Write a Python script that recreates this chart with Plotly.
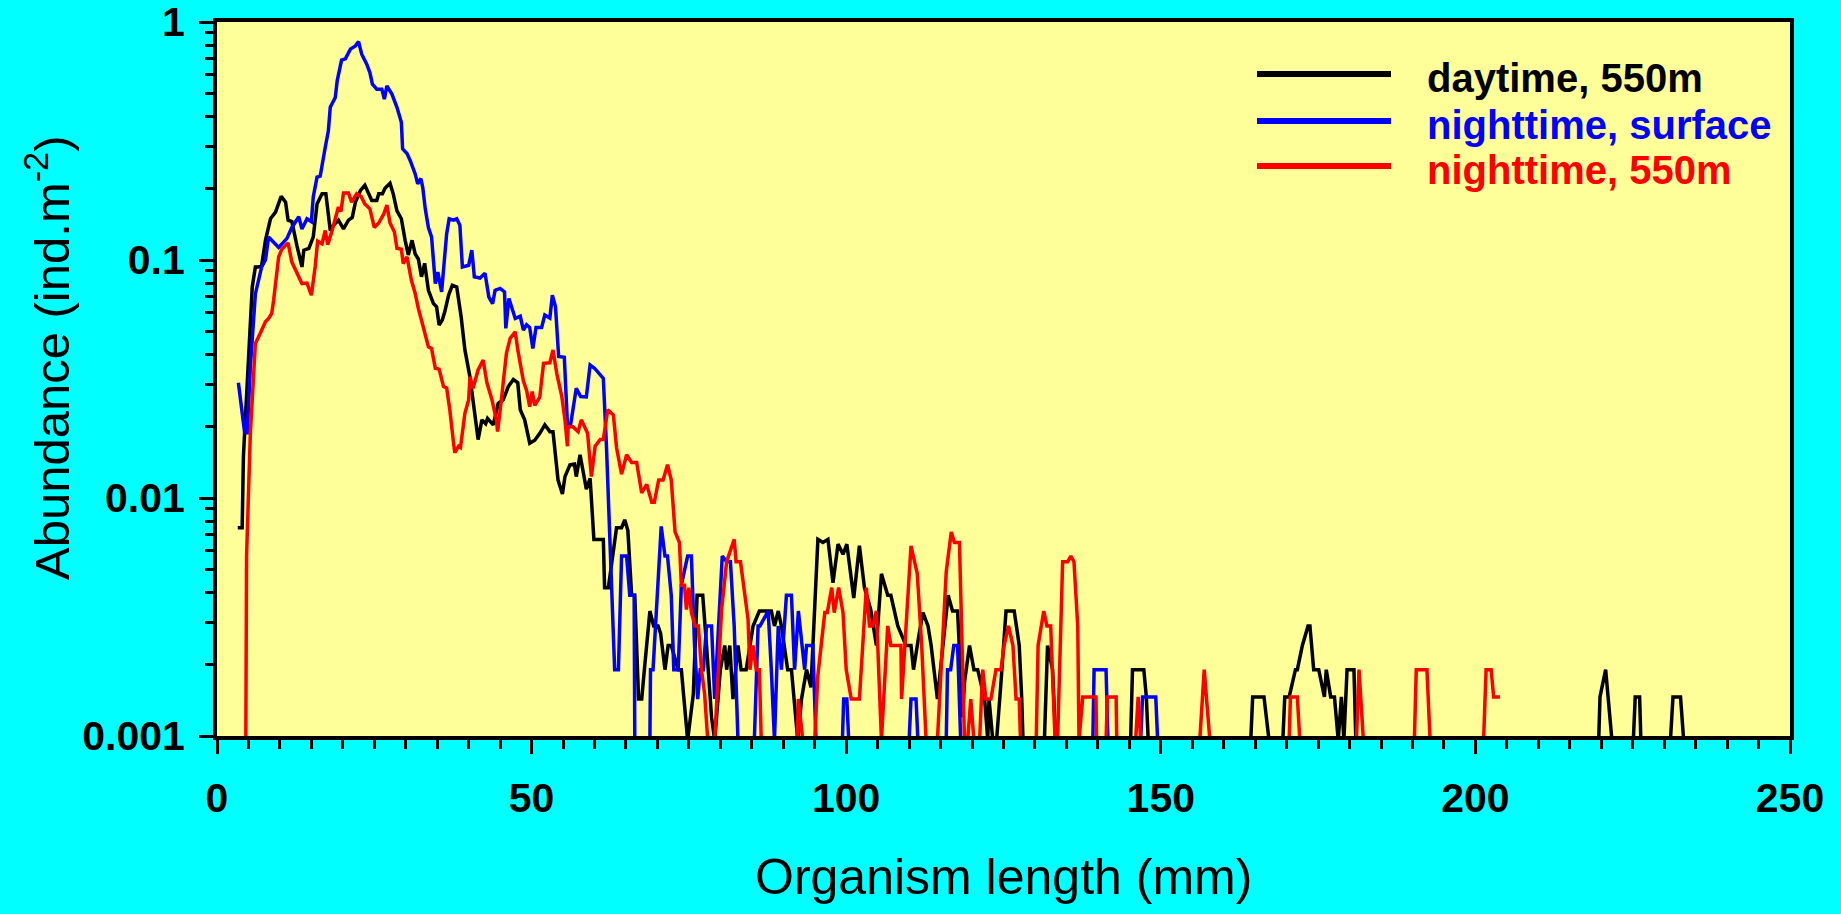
import plotly.graph_objects as go

# ---------------- data ----------------
day550_x = [3.3, 4.0, 4.2, 4.8, 5.6, 6.1, 6.6, 7.1, 7.7, 8.5, 9.3, 10.2, 10.9, 11.3, 11.9, 12.7, 13.5, 13.8,
            14.6, 15.3, 15.9, 16.7, 17.3, 18.0, 18.5, 19.3, 20.1, 20.9, 21.5, 22.0, 22.8, 23.5, 24.1, 24.6,
            25.4, 25.7, 26.3, 26.7, 27.5, 28.0, 28.6, 29.3, 29.9, 30.4, 31.0, 31.5, 32.0, 32.5, 33.0, 33.6,
            34.4, 34.9, 35.3, 35.8, 36.2, 36.8, 37.4, 38.1, 38.8, 39.4, 40.2, 40.7, 41.0, 41.5, 42.1, 42.7,
            43.0, 43.9, 44.7, 45.5, 46.3, 47.1, 47.8, 48.2, 48.9, 49.7, 50.5, 51.3, 52.1, 52.9, 53.4, 53.7,
            54.2, 54.9, 55.3, 56.1, 56.8, 57.1, 57.7, 58.7, 59.3, 59.9, 61.4, 61.6, 62.2, 63.5, 64.3, 64.8,
            65.3, 65.9, 66.4, 67.0, 67.5, 68.0, 68.8, 69.4, 70.1, 70.5, 71.2, 71.7, 72.2, 73.3, 73.8, 74.8,
            75.7, 76.3, 77.2, 77.8, 78.6, 79.1, 80.0, 80.7, 81.0, 81.5, 82.0, 82.8, 83.3, 84.1, 85.2, 86.2,
            88.1, 88.6, 89.2, 89.7, 90.7, 91.3, 92.3, 92.9, 93.7, 94.4, 95.5, 96.3, 97.1, 97.9, 98.7, 99.5,
            100.1, 101.2, 102.1, 102.9, 103.9, 104.8, 105.6, 106.6, 107.1, 108.2, 109.5, 110.3, 110.7, 111.5,
            112.2, 113.0, 113.5, 114.5, 116.2, 116.9, 117.7, 118.5, 118.8, 119.6, 120.3, 120.9, 121.4, 122.0,
            122.5, 122.7, 123.3, 123.9, 124.6, 125.4, 126.7, 127.5, 127.9, 128.1, 131.5, 132.0, 132.8, 133.3,
            145.2, 145.5, 147.3, 147.7, 148.0, 164.3, 164.6, 166.4, 167.2, 169.4, 169.7, 170.4, 171.4, 171.7,
            172.5, 173.4, 173.7, 174.3, 175.1, 176.0, 176.3, 177.0, 177.6, 178.2, 178.7, 179.1, 179.6, 180.7,
            181.0, 219.6, 219.8, 220.7, 221.7, 225.1, 225.4, 226.1, 226.3, 231.0, 231.4, 232.6, 233.1]
day550_y = [0.0075, 0.0075, 0.015, 0.03, 0.077, 0.0935, 0.0935, 0.095, 0.121, 0.149, 0.159, 0.185, 0.175, 0.147,
            0.145, 0.115, 0.0935, 0.11, 0.112, 0.125, 0.172, 0.19, 0.19, 0.133, 0.14, 0.147, 0.135, 0.147,
            0.151, 0.175, 0.196, 0.206, 0.19, 0.178, 0.178, 0.19, 0.19, 0.2, 0.21, 0.19, 0.161, 0.149, 0.121,
            0.105, 0.121, 0.106, 0.101, 0.085, 0.0968, 0.0746, 0.0656, 0.0636, 0.0533, 0.056, 0.0606, 0.0711,
            0.0783, 0.077, 0.0577, 0.0419, 0.0323, 0.025, 0.0223, 0.0176, 0.0213, 0.0205, 0.0216, 0.0203, 0.025,
            0.0259, 0.0294, 0.0315, 0.0305, 0.0235, 0.0213, 0.017, 0.0175, 0.0187, 0.0203, 0.019, 0.019, 0.0155,
            0.0119, 0.0104, 0.0123, 0.0138, 0.0139, 0.0123, 0.0152, 0.0109, 0.0121, 0.0067, 0.0067, 0.0042,
            0.0042, 0.0075, 0.0075, 0.0081, 0.0073, 0.0039, 0.0039, 0.00143, 0.00143, 0.002, 0.00335, 0.0029,
            0.0029, 0.0027, 0.0019, 0.0024, 0.0024, 0.0019, 0.0019, 0.00096, 0.0015, 0.0039, 0.0039, 0.0024,
            0.0012, 0.00096, 0.0019, 0.0024, 0.0019, 0.0024, 0.00143, 0.0024, 0.0019, 0.0019, 0.0029, 0.00335,
            0.00335, 0.0029, 0.00335, 0.0029, 0.0019, 0.0019, 0.00096, 0.00143, 0.0019, 0.0016, 0.0067, 0.0065,
            0.0067, 0.0044, 0.0064, 0.0058, 0.0064, 0.0038, 0.0063, 0.0042, 0.0034, 0.0024, 0.0048, 0.0039,
            0.0039, 0.0029, 0.0024, 0.0024, 0.0019, 0.0026, 0.0033, 0.0029, 0.0024, 0.00143, 0.0039, 0.00335,
            0.00335, 0.0012, 0.00168, 0.0024, 0.0019, 0.0019, 0.00168, 0.00143, 0.00096, 0.00143, 0.00096,
            0.00096, 0.00168, 0.00335, 0.00335, 0.0024, 0.00143, 0.00096, 0.00096, 0.0024, 0.0019, 0.00096,
            0.00096, 0.0019, 0.0019, 0.00146, 0.00096, 0.00096, 0.00146, 0.00146, 0.00096, 0.00096, 0.00146,
            0.00146, 0.0019, 0.0019, 0.0024, 0.0029, 0.0029, 0.0019, 0.0019, 0.00146, 0.0019, 0.00146, 0.00146,
            0.00096, 0.00146, 0.00096, 0.0019, 0.0019, 0.00096, 0.00096, 0.00146, 0.0019, 0.00096, 0.00096,
            0.00146, 0.00146, 0.00096, 0.00096, 0.00146, 0.00146, 0.00096]

nightsurf_x = [3.4, 4.4, 4.8, 5.3, 6.1, 7.1, 7.7, 8.2, 9.8, 11.1, 11.9, 13.0, 13.5, 14.3, 15.0, 15.3, 15.9, 16.4,
               17.2, 17.7, 18.0, 18.8, 19.1, 19.8, 20.4, 21.2, 22.0, 22.5, 23.0, 23.8, 24.3, 24.7, 25.4, 26.2,
               26.6, 27.0, 27.8, 28.6, 29.3, 29.5, 30.2, 30.7, 31.5, 31.9, 32.4, 32.7, 33.1, 33.6, 34.1, 34.7,
               35.1, 35.5, 35.7, 36.5, 36.9, 37.6, 38.1, 38.6, 39.0, 40.0, 40.5, 40.9, 41.8, 42.6, 43.2, 43.8,
               44.2, 45.0, 45.7, 45.9, 46.4, 47.4, 48.2, 48.7, 49.2, 49.7, 50.2, 50.7, 51.6, 52.1, 52.9, 53.3,
               53.8, 54.3, 55.2, 55.7, 56.2, 57.1, 57.8, 58.7, 59.3, 60.0, 60.6, 61.4, 61.9, 63.2, 63.8, 64.3,
               65.1, 65.6, 66.3, 66.4, 68.8, 68.9, 69.3, 70.6, 71.2, 71.6, 72.2, 72.6, 73.3, 73.8, 74.8, 75.4,
               75.9, 76.4, 76.8, 77.3, 77.8, 78.6, 79.1, 80.3, 81.0, 81.6, 82.2, 82.8, 85.4, 86.0, 86.3, 87.6,
               88.1, 88.6, 89.2, 89.7, 90.5, 91.3, 91.8, 92.4, 93.4, 93.7, 94.7, 95.2, 99.4, 99.6, 100.1, 100.4,
               110.0, 110.3, 111.1, 111.4, 115.9, 116.1, 116.6, 117.1, 117.7, 118.2, 139.2, 139.4, 141.3, 141.6,
               146.8, 147.1, 149.2, 149.5]
nightsurf_y = [0.0305, 0.0188, 0.0188, 0.0356, 0.072, 0.0935, 0.1, 0.125, 0.113, 0.123, 0.137, 0.152, 0.135,
               0.149, 0.145, 0.184, 0.223, 0.225, 0.297, 0.349, 0.438, 0.482, 0.566, 0.691, 0.7, 0.769, 0.794,
               0.827, 0.732, 0.665, 0.613, 0.548, 0.522, 0.522, 0.474, 0.539, 0.498, 0.438, 0.379, 0.293, 0.28,
               0.262, 0.23, 0.209, 0.22, 0.202, 0.164, 0.137, 0.125, 0.0796, 0.089, 0.0796, 0.0734, 0.129, 0.149,
               0.147, 0.149, 0.14, 0.0935, 0.095, 0.11, 0.085, 0.084, 0.088, 0.07, 0.0656, 0.0746, 0.076, 0.0735,
               0.0516, 0.0689, 0.0568, 0.058, 0.0508, 0.0535, 0.052, 0.0425, 0.0521, 0.0521, 0.0587, 0.057,
               0.0711, 0.0636, 0.0393, 0.039, 0.0203, 0.0203, 0.0289, 0.0267, 0.0266, 0.0362, 0.0351, 0.0335,
               0.0318, 0.0165, 0.0019, 0.0019, 0.0057, 0.0057, 0.0039, 0.0039, 0.00096, 0.00096, 0.0019, 0.0019,
               0.0076, 0.0057, 0.0057, 0.0039, 0.0019, 0.0019, 0.0043, 0.0057, 0.0057, 0.0024, 0.00143, 0.0019,
               0.0019, 0.0029, 0.0029, 0.00143, 0.0057, 0.0054, 0.0054, 0.0029, 0.00096, 0.00096, 0.0029, 0.0029,
               0.00335, 0.0019, 0.00096, 0.0029, 0.0019, 0.0039, 0.0039, 0.0019, 0.00335, 0.0019, 0.0024, 0.0024,
               0.00096, 0.00096, 0.00143, 0.00143, 0.00096, 0.00096, 0.00143, 0.00143, 0.00096, 0.00096, 0.0019,
               0.0019, 0.0024, 0.0024, 0.00096, 0.00096, 0.0019, 0.0019, 0.00096, 0.00096, 0.00146, 0.00146,
               0.00096]

night550_x = [4.5, 4.7, 5.3, 6.1, 6.9, 7.7, 8.2, 8.7, 9.0, 9.8, 10.3, 11.3, 11.9, 12.7, 13.5, 14.3, 15.0, 15.6,
              16.0, 16.7, 17.2, 17.6, 18.3, 19.3, 19.7, 20.1, 20.9, 21.4, 22.2, 22.9, 23.5, 24.3, 24.6, 25.0,
              25.7, 26.5, 27.0, 27.5, 28.2, 28.6, 29.3, 29.6, 30.2, 30.9, 31.5, 32.0, 32.7, 33.6, 34.1, 34.7,
              35.3, 36.0, 36.5, 37.0, 37.6, 37.8, 38.4, 38.7, 39.4, 40.0, 40.2, 40.7, 41.5, 42.3, 42.9, 43.7,
              44.4, 44.6, 45.2, 46.0, 46.6, 47.4, 47.8, 48.7, 49.2, 49.7, 50.1, 50.5, 51.3, 51.9, 52.9, 53.4,
              54.0, 54.8, 55.3, 55.7, 55.8, 56.6, 57.4, 57.9, 58.9, 59.5, 60.1, 60.9, 61.4, 62.1, 63.0, 63.5,
              64.3, 65.1, 65.9, 66.7, 67.5, 68.3, 69.1, 69.5, 70.2, 70.9, 71.6, 72.2, 72.8, 73.5, 73.8, 74.3,
              74.6, 75.0, 75.4, 76.0, 76.5, 77.0, 77.5, 78.0, 79.1, 80.2, 81.0, 82.2, 82.5, 83.2, 83.9, 84.4,
              84.7, 85.2, 85.7, 86.2, 86.5, 92.2, 92.4, 93.1, 95.0, 95.5, 96.6, 97.0, 97.7, 98.1, 98.8, 99.5,
              100.0, 100.8, 102.1, 103.2, 103.7, 104.2, 104.8, 105.6, 106.6, 107.1, 108.7, 108.8, 110.3, 111.3,
              112.0, 112.7, 114.5, 115.9, 116.7, 117.2, 118.0, 118.8, 119.3, 119.8, 120.3, 121.2, 121.7, 122.2,
              123.0, 123.8, 124.6, 125.1, 125.8, 126.5, 127.0, 127.5, 127.7, 130.2, 130.5, 131.4, 131.9, 132.5,
              133.2, 133.6, 134.4, 135.2, 135.7, 136.2, 136.8, 137.0, 137.6, 139.7, 139.8, 141.3, 141.5, 142.9,
              143.0, 146.0, 146.4, 146.8, 156.2, 156.9, 157.8, 170.4, 170.6, 171.7, 172.1, 181.1, 181.5, 182.2,
              190.3, 190.6, 192.3, 192.8, 201.3, 201.7, 202.5, 202.9, 203.9]
night550_y = [0.0003, 0.0057, 0.0187, 0.0446, 0.0494, 0.055, 0.0568, 0.0596, 0.0678, 0.103, 0.111, 0.118, 0.098,
              0.0877, 0.0796, 0.08, 0.0711, 0.0935, 0.12, 0.117, 0.133, 0.116, 0.133, 0.167, 0.16, 0.191, 0.191,
              0.175, 0.19, 0.185, 0.172, 0.164, 0.152, 0.137, 0.143, 0.156, 0.17, 0.143, 0.131, 0.112, 0.111,
              0.0966, 0.103, 0.0822, 0.0723, 0.0626, 0.0533, 0.0432, 0.0425, 0.0351, 0.0348, 0.0294, 0.029,
              0.0235, 0.017, 0.0155, 0.0165, 0.0163, 0.0227, 0.0259, 0.0323, 0.0289, 0.0345, 0.038, 0.0305,
              0.0259, 0.0213, 0.019, 0.0259, 0.0405, 0.0469, 0.0499, 0.042, 0.031, 0.0284, 0.0242, 0.028, 0.0245,
              0.0265, 0.0368, 0.037, 0.0419, 0.0334, 0.0267, 0.0213, 0.0165, 0.0199, 0.0199, 0.019, 0.0213,
              0.0187, 0.0123, 0.0165, 0.0176, 0.0176, 0.0235, 0.0223, 0.0163, 0.0126, 0.0152, 0.0141, 0.0141,
              0.0105, 0.0114, 0.0096, 0.0096, 0.0119, 0.0119, 0.0138, 0.0119, 0.0072, 0.0065, 0.0043, 0.0043,
              0.0034, 0.0042, 0.0033, 0.0029, 0.0029, 0.0019, 0.0015, 0.00096, 0.00096, 0.0034, 0.0054, 0.0067,
              0.0054, 0.0054, 0.0039, 0.0031, 0.0019, 0.0024, 0.0019, 0.0019, 0.00096, 0.00096, 0.00143, 0.00096,
              0.00096, 0.0018, 0.0033, 0.0033, 0.0042, 0.0033, 0.0042, 0.0033, 0.0019, 0.00143, 0.00143, 0.0042,
              0.0029, 0.0029, 0.00335, 0.00096, 0.0029, 0.0024, 0.0024, 0.00143, 0.0063, 0.0048, 0.0024, 0.00096,
              0.00096, 0.0049, 0.0072, 0.0065, 0.0065, 0.00096, 0.00096, 0.00143, 0.00096, 0.00096, 0.0019,
              0.00143, 0.00143, 0.0019, 0.0019, 0.0024, 0.0029, 0.0024, 0.00143, 0.00143, 0.00096, 0.00096,
              0.0024, 0.00335, 0.0029, 0.0029, 0.00096, 0.00096, 0.0054, 0.0054, 0.0057, 0.0054, 0.0029, 0.00096,
              0.00146, 0.00146, 0.00096, 0.00096, 0.00146, 0.00146, 0.00096, 0.00096, 0.00146, 0.00096, 0.00096,
              0.0019, 0.00096, 0.00096, 0.00146, 0.00146, 0.00096, 0.00096, 0.0019, 0.00096, 0.00096, 0.0019,
              0.0019, 0.00096, 0.00096, 0.0019, 0.0019, 0.00146, 0.00146]

series_names = ["daytime, 550m", "nighttime, surface", "nighttime, 550m"]
series_colors = ["#000000", "#0000FF", "#FF0000"]
x_tick_vals = [0, 50, 100, 150, 200, 250]
x_tick_text = ["0", "50", "100", "150", "200", "250"]
y_tick_vals = [0.001, 0.01, 0.1, 1]
y_tick_text = ["0.001", "0.01", "0.1", "1"]

FONT = "Liberation Sans, Arial, sans-serif"

fig = go.Figure()
for xs, ys, nm, col in zip([day550_x, nightsurf_x, night550_x],
                           [day550_y, nightsurf_y, night550_y],
                           series_names, series_colors):
    fig.add_trace(go.Scatter(x=xs, y=ys, mode="lines", name=nm,
                             line=dict(color=col, width=3.5), showlegend=False))

# plot area in pixels
W, H = 1841, 914
L, R, T, B = 217, 1790, 22, 736
pw, ph = R - L, B - T

def px_x(p):
    return (p - L) / pw

def px_y(p):
    return (B - p) / ph

axis_common = dict(showline=True, linecolor="black", linewidth=4, mirror=True,
                   ticks="outside", tickcolor="black", tickwidth=3, ticklen=14,
                   showgrid=False, zeroline=False, automargin=False,
                   ticklabeloverflow="allow",
                   tickfont=dict(family=FONT, size=41, color="black", weight="bold"))

fig.update_xaxes(range=[0, 250], tickmode="array", tickvals=x_tick_vals, ticktext=x_tick_text,
                 ticklabelstandoff=9,
                 minor=dict(dtick=5, ticks="outside", ticklen=9, tickwidth=3, tickcolor="black",
                            showgrid=False),
                 **axis_common)
fig.update_yaxes(type="log", range=[-3, 0], tickmode="array", tickvals=y_tick_vals, ticktext=y_tick_text,
                 ticklabelstandoff=6,
                 minor=dict(dtick="D1", ticks="outside", ticklen=8, tickwidth=3, tickcolor="black",
                            showgrid=False),
                 **axis_common)

# legend drawn as lines + coloured labels
leg_rows = [74, 121, 166]
for nm, col, ry in zip(series_names, series_colors, leg_rows):
    fig.add_shape(type="line", xref="paper", yref="paper",
                  x0=px_x(1257), x1=px_x(1391), y0=px_y(ry), y1=px_y(ry),
                  line=dict(color=col, width=6))
    fig.add_annotation(xref="paper", yref="paper", x=px_x(1425), y=px_y(ry + 4),
                       xanchor="left", yanchor="middle", showarrow=False,
                       text=nm, font=dict(family=FONT, size=40, color=col, weight="bold"))

# axis titles
fig.add_annotation(xref="paper", yref="paper", x=px_x(1003), y=px_y(877),
                   xanchor="center", yanchor="middle", showarrow=False,
                   text="Organism length (mm)",
                   font=dict(family=FONT, size=50, color="black"))
fig.add_annotation(xref="paper", yref="paper", x=px_x(48), y=px_y(358),
                   xanchor="center", yanchor="middle", showarrow=False, textangle=-90,
                   text="Abundance (ind.m<sup>-2</sup>)",
                   font=dict(family=FONT, size=49, color="black"))

fig.update_layout(width=W, height=H, autosize=False,
                  margin=dict(l=L, r=W - R, t=T, b=H - B, pad=0, autoexpand=False),
                  paper_bgcolor="#00FFFF", plot_bgcolor="#FFFF99",
                  showlegend=False)

fig.write_html("out.html")
